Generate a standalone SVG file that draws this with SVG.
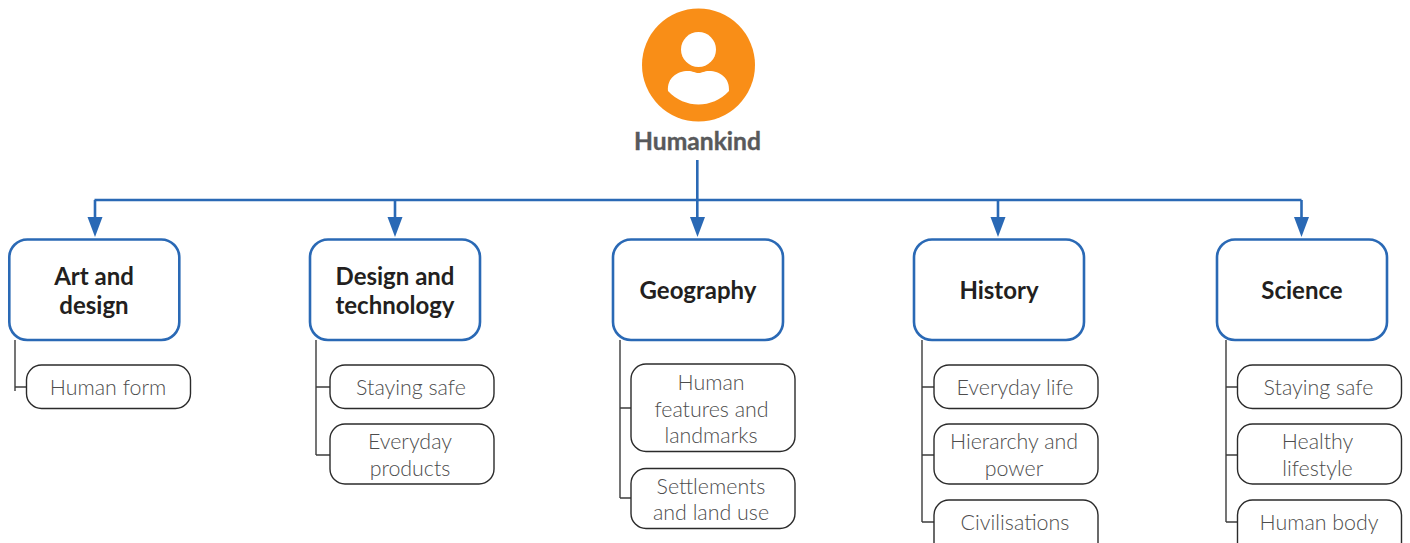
<svg xmlns="http://www.w3.org/2000/svg" width="1410" height="543" viewBox="0 0 1410 543">
<style>
.p{fill:#fff;stroke:#2a69b5;stroke-width:2.6}
.c{fill:#fff;stroke:#2b2b2b;stroke-width:1.4}
.pt{font:700 24px Lato,"Liberation Sans",sans-serif;fill:#231f20;text-anchor:middle}
.ct{font:300 21.4px Lato,"Liberation Sans",sans-serif;fill:#4d4d4d;text-anchor:middle}
.bl{fill:none;stroke:#2a69b5;stroke-width:2.6}
.gl{fill:none;stroke:#3c3c3c;stroke-width:1.4}
</style>
<g id="connectors">
<path class="bl" d="M94.500 200H1301.500"/>
<path class="bl" d="M95 200V220M395 200V220M697.300 160V220M998 200V220M1301.500 200V220"/>
<path fill="#2a69b5" d="M87.500 217H102.500L95 237ZM387.500 217H402.500L395 237ZM690 217H705L697.500 237ZM990.500 217H1005.500L998 237ZM1294 217H1309L1301.500 237Z"/>
<path class="gl" d="M15 340V391M15 387H27M316 340V455M316 387H330M316 455H330M620 340V498M620 408H631M620 498H631M922 340V522M922 387H934M922 455H934M922 522H934M1226 340V522M1226 387H1237M1226 455H1237M1226 522H1237"/>
</g>
<g id="root">
<circle cx="698.500" cy="65" r="56.500" fill="#f98e17"/>
<circle cx="698.500" cy="49.500" r="17.500" fill="#fff"/>
<path d="M668 91C667 78 677 71 688 71C693 71 695 73 698.500 73C702 73 704 71 709 71C720 71 730 78 729 91C712 109 685 109 668 91Z" fill="#fff"/>
<text x="697.500" y="150" text-anchor="middle" stroke="#58595b" stroke-width="0.4" style="font:700 24.600px Lato,'Liberation Sans',sans-serif;fill:#58595b">Humankind</text>
</g>
<g id="art"><rect class="p" x="9.300" y="239.500" width="170" height="100.500" rx="18"/><text class="pt" x="94" y="285">Art and</text><text class="pt" x="94" y="314">design</text></g>
<g id="design"><rect class="p" x="310" y="239.500" width="170" height="100.500" rx="18"/><text class="pt" x="395" y="285">Design and</text><text class="pt" x="395" y="314">technology</text></g>
<g id="geography"><rect class="p" x="613" y="239.500" width="170" height="100.500" rx="18"/><text class="pt" x="698" y="299">Geography</text></g>
<g id="history"><rect class="p" x="914" y="239.500" width="170" height="100.500" rx="18"/><text class="pt" x="999" y="299">History</text></g>
<g id="science"><rect class="p" x="1217" y="239.500" width="170" height="100.500" rx="18"/><text class="pt" x="1302" y="299">Science</text></g>
<g id="art-1"><rect class="c" x="26.500" y="365" width="164" height="43.500" rx="15"/><text class="ct" x="108" y="395">Human form</text></g>
<g id="design-1"><rect class="c" x="330" y="365" width="164" height="43.500" rx="15"/><text class="ct" x="411" y="395">Staying safe</text></g>
<g id="design-2"><rect class="c" x="330" y="424" width="164" height="60" rx="15"/><text class="ct" x="410" y="449">Everyday</text><text class="ct" x="410" y="476">products</text></g>
<g id="geo-1"><rect class="c" x="631" y="364" width="164" height="87.500" rx="15"/><text class="ct" x="711" y="390">Human</text><text class="ct" x="711.500" y="417">features and</text><text class="ct" x="711" y="443">landmarks</text></g>
<g id="geo-2"><rect class="c" x="631" y="468.500" width="164" height="60" rx="15"/><text class="ct" x="711" y="494">Settlements</text><text class="ct" x="711" y="520">and land use</text></g>
<g id="hist-1"><rect class="c" x="934" y="365" width="164" height="43.500" rx="15"/><text class="ct" x="1015" y="395">Everyday life</text></g>
<g id="hist-2"><rect class="c" x="934" y="424" width="164" height="60" rx="15"/><text class="ct" x="1014" y="449">Hierarchy and</text><text class="ct" x="1014" y="476">power</text></g>
<g id="hist-3"><rect class="c" x="934" y="500" width="164" height="60" rx="15"/><text class="ct" x="1015" y="530">Civilisations</text></g>
<g id="sci-1"><rect class="c" x="1237.500" y="365" width="164" height="43.500" rx="15"/><text class="ct" x="1318.500" y="395">Staying safe</text></g>
<g id="sci-2"><rect class="c" x="1237.500" y="424" width="164" height="60" rx="15"/><text class="ct" x="1317.500" y="449">Healthy</text><text class="ct" x="1317.500" y="476">lifestyle</text></g>
<g id="sci-3"><rect class="c" x="1237.500" y="500" width="164" height="60" rx="15"/><text class="ct" x="1319" y="530">Human body</text></g>
</svg>
